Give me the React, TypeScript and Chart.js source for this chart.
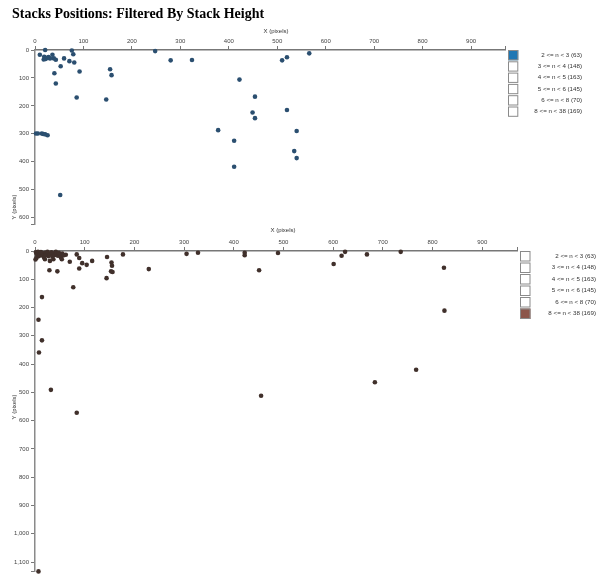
import React, { useEffect, useRef } from "react";
import { Chart, registerables } from "chart.js";
Chart.register(...registerables);

const titleText = "Stacks Positions: Filtered By Stack Height";
const xAxisTitle = "X (pixels)";
const yAxisTitle = "Y (pixels)";
const legendLabels = [
  "2 <= n < 3 (63)",
  "3 <= n < 4 (148)",
  "4 <= n < 5 (163)",
  "5 <= n < 6 (145)",
  "6 <= n < 8 (70)",
  "8 <= n < 38 (169)",
];
const categoryColors = ["#1f77b4", "#ff7f0e", "#2ca02c", "#d62728", "#9467bd", "#8c564b"];
const xTickValues = [0, 100, 200, 300, 400, 500, 600, 700, 800, 900];
const xMax = 970;
const topYTickValues = [0, 100, 200, 300, 400, 500, 600];
const topYMax = 623;
const bottomYTickValues = [0, 100, 200, 300, 400, 500, 600, 700, 800, 900, 1000, 1100];
const bottomYMax = 1133;

// Top panel: 2 <= n < 3
const topX = [10, 21, 19, 22, 25, 28, 31, 18, 36, 39, 43, 53, 60, 71, 76, 79, 81, 92, 40, 43, 86, 147, 155, 158, 248, 280, 324, 422, 454, 449, 454, 510, 520, 520, 566, 2, 6, 14, 17, 21, 26, 378, 411, 411, 540, 535, 540, 52];
const topY = [17, 0, 24, 32, 28, 25, 30, 34, 17, 30, 35, 58, 30, 40, 2, 15, 45, 77, 83, 120, 170, 177, 69, 90, 4, 37, 36, 106, 167, 224, 244, 37, 26, 215, 12, 299, 299, 299, 301, 302, 305, 287, 325, 418, 290, 362, 387, 519];

// Bottom panel: 8 <= n < 38
const bottomX = [2, 4, 6, 8, 10, 12, 14, 16, 18, 20, 22, 25, 27, 29, 31, 33, 35, 38, 40, 42, 44, 46, 48, 50, 52, 55, 58, 62, 1, 3,
  20, 30, 37, 54, 57, 29, 45, 70, 84, 89, 89, 95, 104, 115, 77, 145, 144, 154, 155, 153, 156, 177, 229, 305, 328, 422, 422, 451, 489,
  14, 7, 14, 8, 32, 84, 455, 7, 624, 617, 601, 668, 736, 823, 824, 767, 684];
const bottomY = [5, 12, 3, 18, 8, 4, 15, 10, 22, 6, 14, 3, 18, 9, 12, 5, 20, 8, 14, 3, 10, 17, 6, 12, 22, 9, 15, 13, 30, 25,
  29, 35, 29, 29, 14, 68, 72, 38, 12, 25, 62, 43, 49, 35, 128, 21, 96, 41, 52, 72, 74, 12, 64, 10, 6, 6, 15, 68, 7,
  163, 243, 316, 359, 491, 572, 512, 1133, 3, 17, 46, 12, 3, 59, 211, 420, 464];

type PanelOpts = {
  xs: number[];
  ys: number[];
  pointColor: string;
  yTicks: number[];
  yMax: number;
  padding: { top: number; left: number; right: number; bottom: number };
  activeIndex: number;
  legendPitch: number;
  legendLabelRight: number;
  xTitleX: number;
  xTitleDy: number;
  yTitleY: number;
  drawTitle: boolean;
};

const TICK_FONT = { family: "'Liberation Sans', Arial, sans-serif", size: 6 };

function fmt(v: number) {
  return Number(v).toLocaleString("en-US");
}

function makeConfig(o: PanelOpts): any {
  const deco = {
    id: "deco",
    afterDraw(chart: any) {
      const ctx = chart.ctx;
      const a = chart.chartArea;
      ctx.save();
      if (o.drawTitle) {
        ctx.fillStyle = "#000";
        ctx.font = "bold 14px 'Liberation Serif', 'Times New Roman', serif";
        ctx.textAlign = "left";
        ctx.textBaseline = "alphabetic";
        ctx.fillText(titleText, 12, 18);
      }
      ctx.fillStyle = "#333";
      ctx.font = "6px 'Liberation Sans', Arial, sans-serif";
      ctx.textAlign = "center";
      ctx.textBaseline = "middle";
      ctx.fillText(xAxisTitle, o.xTitleX, a.top - o.xTitleDy);
      ctx.save();
      ctx.translate(14, o.yTitleY);
      ctx.rotate(-Math.PI / 2);
      ctx.fillText(yAxisTitle, 0, 0);
      ctx.restore();
      // legend
      const size = o.legendPitch - 1;
      for (let i = 0; i < legendLabels.length; i++) {
        const x = a.right + 3;
        const y = a.top + i * o.legendPitch;
        ctx.fillStyle = i === o.activeIndex ? categoryColors[i] : "#fff";
        ctx.fillRect(x, y, size, size);
        ctx.strokeStyle = "#8a8a8a";
        ctx.lineWidth = 1;
        ctx.strokeRect(x + 0.5, y + 0.5, size - 1, size - 1);
        ctx.fillStyle = "#333";
        ctx.font = "6.2px 'Liberation Sans', Arial, sans-serif";
        ctx.textAlign = "right";
        ctx.textBaseline = "middle";
        ctx.fillText(legendLabels[i], o.legendLabelRight, y + size / 2);
      }
      ctx.restore();
    },
  };

  const data = o.xs.map((x, i) => ({ x, y: o.ys[i] }));
  return {
    type: "scatter",
    data: {
      datasets: [
        {
          data,
          pointRadius: 2.3,
          pointBackgroundColor: o.pointColor,
          pointBorderWidth: 0,
          borderWidth: 0,
          clip: false,
        },
      ],
    },
    options: {
      animation: false,
      responsive: false,
      devicePixelRatio: 1,
      events: [],
      layout: { padding: o.padding },
      plugins: { legend: { display: false }, tooltip: { enabled: false }, title: { display: false } },
      scales: {
        x: {
          type: "linear",
          position: "top",
          min: 0,
          max: xMax,
          afterFit: (s: any) => {
            s.height = 30;
          },
          afterBuildTicks: (s: any) => {
            s.ticks = [...xTickValues, xMax].map((v) => ({ value: v }));
          },
          grid: { display: true, drawOnChartArea: false, drawTicks: true, tickLength: 4, tickColor: "#777", lineWidth: 1 },
          border: { display: true, color: "#777", width: 1.5 },
          ticks: {
            autoSkip: false,
            maxRotation: 0,
            minRotation: 0,
            padding: 1.5,
            color: "#444",
            font: TICK_FONT,
            callback: (v: number) => (v === xMax ? "" : fmt(v)),
          },
        },
        y: {
          type: "linear",
          position: "left",
          reverse: true,
          min: 0,
          max: o.yMax,
          afterFit: (s: any) => {
            s.width = 35;
          },
          afterBuildTicks: (s: any) => {
            s.ticks = [...o.yTicks, o.yMax].map((v) => ({ value: v }));
          },
          grid: { display: true, drawOnChartArea: false, drawTicks: true, tickLength: 4, tickColor: "#777", lineWidth: 1 },
          border: { display: true, color: "#8a8a8a", width: 1.5 },
          ticks: {
            autoSkip: false,
            padding: 2,
            color: "#444",
            font: TICK_FONT,
            callback: (v: number) => (v === o.yMax ? "" : fmt(v)),
          },
        },
      },
    },
    plugins: [deco],
  };
}

function Panel({ opts }: { opts: PanelOpts }) {
  const ref = useRef<HTMLCanvasElement | null>(null);
  useEffect(() => {
    if (!ref.current) return;
    const chart = new Chart(ref.current, makeConfig(opts));
    return () => chart.destroy();
  }, []);
  return (
    <canvas
      ref={ref}
      width={599}
      height={577}
      style={{ position: "absolute", left: 0, top: 0, width: 599, height: 577 }}
    />
  );
}

export default function App() {
  const topOpts: PanelOpts = {
    xs: topX,
    ys: topY,
    pointColor: "#2b4f70",
    yTicks: topYTickValues,
    yMax: topYMax,
    padding: { top: 20, left: 0, right: 94, bottom: 353 },
    activeIndex: 0,
    legendPitch: 11.3,
    legendLabelRight: 582,
    xTitleX: 276,
    xTitleDy: 19,
    yTitleY: 207,
    drawTitle: true,
  };
  const bottomOpts: PanelOpts = {
    xs: bottomX,
    ys: bottomY,
    pointColor: "#40302b",
    yTicks: bottomYTickValues,
    yMax: bottomYMax,
    padding: { top: 221, left: 0, right: 82, bottom: 3 },
    activeIndex: 5,
    legendPitch: 11.5,
    legendLabelRight: 596,
    xTitleX: 283,
    xTitleDy: 21,
    yTitleY: 407,
    drawTitle: false,
  };
  return (
    <div style={{ position: "absolute", left: 0, top: 0, width: 599, height: 577, background: "#fff" }}>
      <Panel opts={topOpts} />
      <Panel opts={bottomOpts} />
    </div>
  );
}
